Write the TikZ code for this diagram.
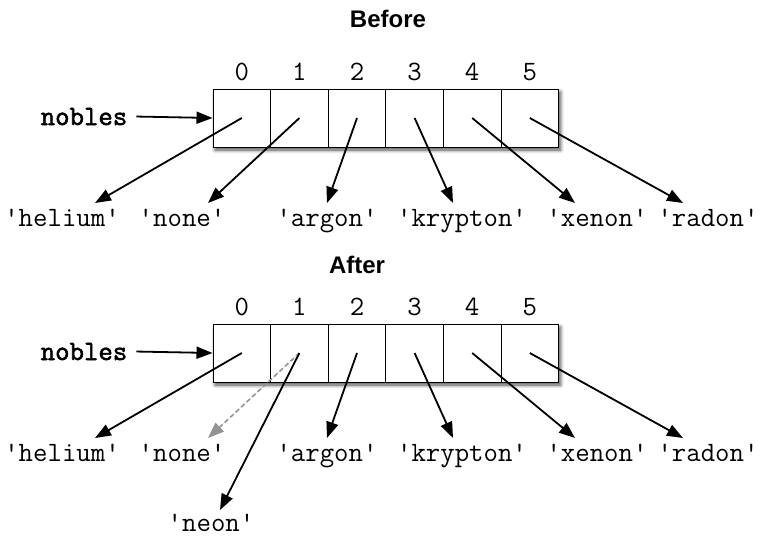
\documentclass[tikz,border=0pt]{standalone}
\usepackage{fontspec}
\setmainfont{Liberation Sans}
\newfontfamily\nobfont[FakeBold=2]{Latin Modern Mono}
\usetikzlibrary{arrows.meta,shadows.blur}
\begin{document}
\begin{tikzpicture}[x=1pt,y=-1pt,
  cell/.style={draw, line width=1pt, minimum width=57.6pt, minimum height=58pt, inner sep=0pt},
  arraybox/.style={draw, line width=1pt, fill=white, minimum width=345.6pt, minimum height=58pt, inner sep=0pt,
    blur shadow={shadow xshift=2pt, shadow yshift=-3pt, shadow blur steps=8, shadow blur radius=3.5pt, shadow opacity=70}},
  code/.style={font=\fontsize{28}{32}\selectfont\ttfamily, inner sep=0pt, anchor=base},
  varname/.style={code, font=\fontsize{28}{32}\selectfont\nobfont},
  heading/.style={font=\fontsize{24}{28}\selectfont\bfseries, inner sep=0pt, anchor=base},
  ptr/.style={-{Triangle[length=16pt,width=12pt]}, line width=1.8pt},
  oldptr/.style={-{Triangle[length=16pt,width=12pt]}, line width=1.6pt, draw=gray!85, fill=gray!85, dash pattern=on 4.5pt off 3pt}
]
\useasboundingbox (0,0) rectangle (760,536);

% ---------- Before ----------
\node[heading] (tbefore) at (388,27) {Before};
\node[arraybox] (barr) at (385.8,118) {};
\foreach \i in {0,...,5} {
  \node[cell] (b\i) at ({241.8+57.6*\i},118) {};
  \node[code] (bi\i) at ({241.8+57.6*\i},80) {\i};
}
\node[varname] (bn) at (84,125) {nobles};
\draw[ptr] ([xshift=9pt]bn.east) -- (b0.west);

\node[code] (bl0) at (62,226) {'helium'};
\node[code] (bl1) at (182,226) {'none'};
\node[code] (bl2) at (327,226) {'argon'};
\node[code] (bl3) at (462,226) {'krypton'};
\node[code] (bl4) at (597,226) {'xenon'};
\node[code] (bl5) at (708,226) {'radon'};

\coordinate (bt0) at (95,203);
\coordinate (bt1) at (208,203);
\coordinate (bt2) at (327,203);
\coordinate (bt3) at (453,203);
\coordinate (bt4) at (575,203);
\coordinate (bt5) at (683,203);
\foreach \i in {0,...,5} { \draw[ptr] (b\i.center) -- (bt\i); }

% ---------- After ----------
\node[heading] (tafter) at (357,273) {After};
\node[arraybox] (aarr) at (385.8,353) {};
\foreach \i in {0,...,5} {
  \node[cell] (a\i) at ({241.8+57.6*\i},353) {};
  \node[code] (ai\i) at ({241.8+57.6*\i},315) {\i};
}
\node[varname] (an) at (84,360) {nobles};
\draw[ptr] ([xshift=9pt]an.east) -- (a0.west);

\node[code] (al0) at (62,461) {'helium'};
\node[code] (al1) at (182,461) {'none'};
\node[code] (al2) at (327,461) {'argon'};
\node[code] (al3) at (462,461) {'krypton'};
\node[code] (al4) at (597,461) {'xenon'};
\node[code] (al5) at (708,461) {'radon'};
\node[code] (aneon) at (211,531) {'neon'};

\coordinate (at0) at (95,438);
\coordinate (at1) at (208,438);
\coordinate (at2) at (327,438);
\coordinate (at3) at (453,438);
\coordinate (at4) at (575,438);
\coordinate (at5) at (683,438);
\coordinate (atn) at (220,510);
\draw[oldptr] (a1.center) -- (at1);
\foreach \i in {0,2,3,4,5} { \draw[ptr] (a\i.center) -- (at\i); }
\draw[ptr] (a1.center) -- (atn);
\end{tikzpicture}
\end{document}
